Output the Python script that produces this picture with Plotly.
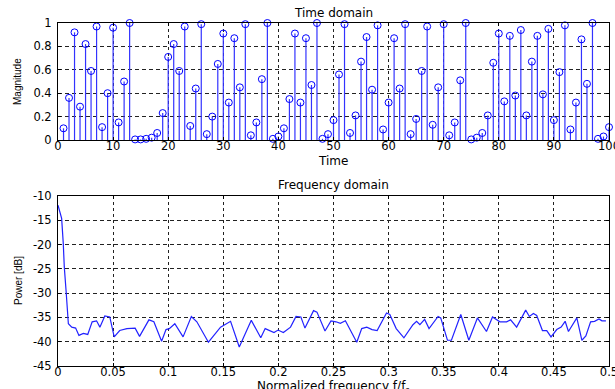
import plotly.graph_objects as go

# ---------------- data ----------------
time_n = list(range(1, 101))
magnitude = [0.10, 0.36, 0.92, 0.285, 0.82, 0.59, 0.97, 0.11, 0.40, 0.96,
             0.15, 0.50, 1.00, 0.005, 0.005, 0.01, 0.02, 0.06, 0.23, 0.71,
             0.82, 0.59, 0.97, 0.12, 0.44, 0.99, 0.05, 0.20, 0.65, 0.91,
             0.32, 0.87, 0.45, 0.99, 0.04, 0.15, 0.52, 1.00, 0.01, 0.03,
             0.10, 0.35, 0.91, 0.32, 0.87, 0.47, 1.00, 0.01, 0.05, 0.17,
             0.56, 0.99, 0.06, 0.21, 0.67, 0.88, 0.43, 0.98, 0.09, 0.32,
             0.87, 0.44, 0.99, 0.05, 0.18, 0.59, 0.97, 0.13, 0.45, 0.99,
             0.04, 0.15, 0.51, 1.00, 0.005, 0.02, 0.06, 0.21, 0.66, 0.91,
             0.33, 0.89, 0.38, 0.94, 0.21, 0.67, 0.89, 0.39, 0.95, 0.17,
             0.58, 0.98, 0.09, 0.32, 0.86, 0.48, 1.00, 0.01, 0.03, 0.11]

norm_freq = [0, 0.0016, 0.0033, 0.0048, 0.0057, 0.0073, 0.0082, 0.0094, 0.0125, 0.016,
             0.019, 0.023, 0.027, 0.031, 0.035, 0.038, 0.0425, 0.047, 0.051, 0.056,
             0.0625, 0.070, 0.074, 0.078, 0.0825, 0.087, 0.094, 0.098, 0.101, 0.106,
             0.1135, 0.121, 0.126, 0.1365, 0.1475, 0.1566, 0.1645, 0.1754, 0.184, 0.188,
             0.196, 0.1997, 0.2045, 0.211, 0.216, 0.2204, 0.2241, 0.2319, 0.235, 0.2423,
             0.2477, 0.2523, 0.2562, 0.2608, 0.2711, 0.2756, 0.2802, 0.285, 0.2896, 0.2981,
             0.3011, 0.3069, 0.3139, 0.3221, 0.3254, 0.3284, 0.3327, 0.3367, 0.3449, 0.3473,
             0.3534, 0.357, 0.3655, 0.3728, 0.3806, 0.3888, 0.3943, 0.401, 0.4071, 0.4107,
             0.4162, 0.4244, 0.4277, 0.4314, 0.4344, 0.4396, 0.4435, 0.4474, 0.4526, 0.4566,
             0.4602, 0.4632, 0.4708, 0.4754, 0.479, 0.4833, 0.4869, 0.4909, 0.4936, 0.4972]
power_db = [-11.9, -13.3, -14.6, -19.8, -24.6, -29.4, -33.1, -36.3, -37.0, -37.2,
            -38.7, -38.3, -38.5, -35.9, -35.7, -37.0, -34.7, -34.9, -39.0, -37.7,
            -37.3, -37.2, -38.9, -37.3, -35.5, -35.9, -39.9, -37.5, -37.3, -36.3,
            -39.0, -34.8, -35.9, -40.1, -37.0, -35.8, -41.1, -35.6, -39.2, -37.3,
            -38.1, -37.6, -38.1, -37.0, -34.8, -34.9, -37.2, -33.6, -33.9, -37.8,
            -35.7, -35.9, -36.2, -35.7, -40.1, -37.3, -37.0, -37.5, -37.7, -34.1,
            -34.4, -37.3, -39.2, -36.5, -35.8, -36.5, -35.4, -37.3, -34.8, -35.1,
            -39.7, -39.7, -34.4, -39.7, -35.1, -37.9, -34.9, -35.9, -35.9, -35.5,
            -37.0, -33.5, -34.8, -34.2, -34.6, -37.7, -37.7, -39.0, -37.5, -37.0,
            -35.8, -37.9, -35.1, -39.7, -38.8, -35.9, -35.8, -35.3, -35.7, -35.7]

time_ticks = [0, 10, 20, 30, 40, 50, 60, 70, 80, 90, 100]
mag_ticks = [0, 0.2, 0.4, 0.6, 0.8, 1]
mag_tick_text = ["0", "0.2", "0.4", "0.6", "0.8", "1"]
freq_ticks = [0, 0.05, 0.1, 0.15, 0.2, 0.25, 0.3, 0.35, 0.4, 0.45, 0.5]
freq_tick_text = ["0", "0.05", "0.1", "0.15", "0.2", "0.25", "0.3", "0.35", "0.4", "0.45", "0.5"]
db_ticks = [-45, -40, -35, -30, -25, -20, -15, -10]
db_tick_text = ["-45", "-40", "-35", "-30", "-25", "-20", "-15", "-10"]

# ---------------- figure ----------------
W, H = 615, 389
BLUE = "#0000ff"
TICKFONT = dict(family="DejaVu Sans", size=11.5, color="black")
LABELFONT = dict(family="DejaVu Sans", size=12, color="black")
ROTFONT = dict(family="Liberation Sans", size=10, color="black")

fig = go.Figure()

# stem plot: markers with one-sided error bars down to zero
fig.add_trace(go.Scatter(
    x=time_n, y=magnitude, mode="markers",
    marker=dict(symbol="circle-open", size=7, color=BLUE, line=dict(width=1, color=BLUE)),
    error_y=dict(type="data", symmetric=False, array=[0] * len(magnitude),
                 arrayminus=magnitude, width=0, thickness=1.2, color="#3333ff"),
    cliponaxis=False, xaxis="x", yaxis="y", showlegend=False,
))

fig.add_trace(go.Scatter(
    x=norm_freq, y=power_db, mode="lines",
    line=dict(color="#2222ff", width=1.2),
    xaxis="x2", yaxis="y2", showlegend=False,
))

x_dom = [58 / W, 609 / W]
y1_dom = [1 - 140 / H, 1 - 23 / H]
y2_dom = [1 - 366 / H, 1 - 196 / H]

common = dict(showline=True, linecolor="black", linewidth=1, mirror="ticks",
              ticks="inside", ticklen=3, tickcolor="black", tickfont=TICKFONT,
              showgrid=True, gridcolor="#222222", gridwidth=1, zeroline=False,
              ticklabeloverflow="allow", automargin=False)

fig.update_layout(
    width=W, height=H,
    margin=dict(l=0, r=0, t=0, b=0, autoexpand=False),
    paper_bgcolor="white", plot_bgcolor="white",
    xaxis=dict(domain=x_dom, range=[0, 100], tickvals=time_ticks, anchor="y",
               griddash="dot", ticklabelstandoff=-5, **common),
    yaxis=dict(domain=y1_dom, range=[0, 1], tickvals=mag_ticks, ticktext=mag_tick_text,
               anchor="x", griddash="4px,3px", ticklabelstandoff=3, **common),
    xaxis2=dict(domain=x_dom, range=[0, 0.5], tickvals=freq_ticks, ticktext=freq_tick_text,
                anchor="y2", griddash="dot", ticklabelstandoff=-5, **common),
    yaxis2=dict(domain=y2_dom, range=[-45, -10], tickvals=db_ticks, ticktext=db_tick_text,
                anchor="x2", griddash="4px,3px", ticklabelstandoff=3, **common),
)

def px(xp, yp):
    return xp / W, 1 - yp / H

annots = [
    ("Time domain", 333, 13, LABELFONT, 0),
    ("Time", 333, 161, LABELFONT, 0),
    ("Magnitude", 18, 82, ROTFONT, -90),
    ("Frequency domain", 333, 185, LABELFONT, 0),
    ("Normalized frequency f/f<sub>s</sub>", 333, 387, LABELFONT, 0),
    ("Power [dB]", 18, 281, ROTFONT, -90),
]
for text, xp, yp, font, ang in annots:
    ax, ay = px(xp, yp)
    fig.add_annotation(text=text, x=ax, y=ay, xref="paper", yref="paper",
                       xanchor="center", yanchor="middle", showarrow=False,
                       font=font, textangle=ang)

fig.write_html("out.html")
